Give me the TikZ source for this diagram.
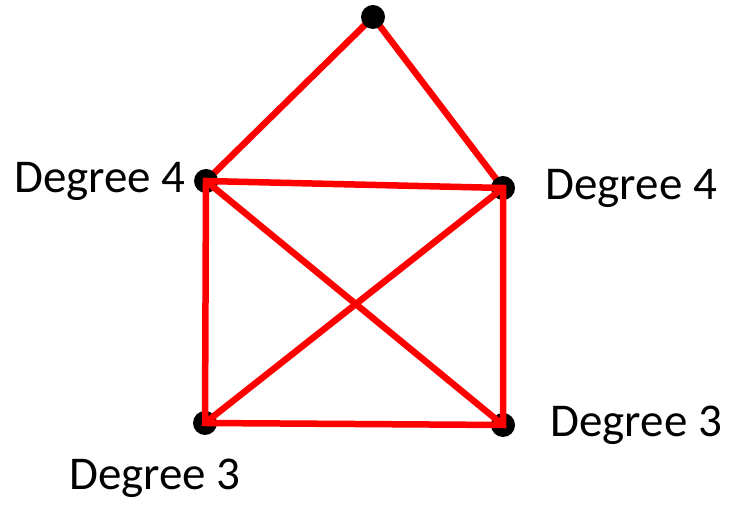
\documentclass[tikz,border=0pt]{standalone}
\usepackage{fontspec}
\setmainfont{Carlito}
\usepackage{tikz}
\usetikzlibrary{positioning, backgrounds}

\begin{document}
\begin{tikzpicture}[x=1pt,y=1pt,
  dot/.style={circle,fill=black,inner sep=0pt,minimum size=24pt},
  lbl/.style={inner sep=0pt,font=\fontsize{47}{54}\selectfont},
  edge/.style={draw=red,line width=6.5pt}
]
\useasboundingbox (0,0) rectangle (730,505);
\node[dot] (lm) at (206,324) {};
\node[dot] (rm) at (503,317) {};
\node[dot] (lb) at (205,82) {};
\node[dot] (rb) at (503,80) {};
\draw[edge] (lm.center) -- (rm.center) -- (rb.center) -- (lb.center) -- cycle;
\draw[edge] (lm.center) -- (rb.center);
\draw[edge] (rm.center) -- (lb.center);
\node[dot] (top) at (373,488) {};
\begin{scope}[on background layer]
\draw[edge] (lm.center) -- (top.center) -- (rm.center);
\end{scope}
\node[lbl, left=8pt of lm] (lmtext) {Degree 4};
\node[lbl, right=30pt of rm] (rmtext) {Degree 4};
\node[lbl, right=35pt of rb] (rbtext) {Degree 3};
\node[lbl] (lbtext) at (155,27) {Degree 3};
\end{tikzpicture}
\end{document}
